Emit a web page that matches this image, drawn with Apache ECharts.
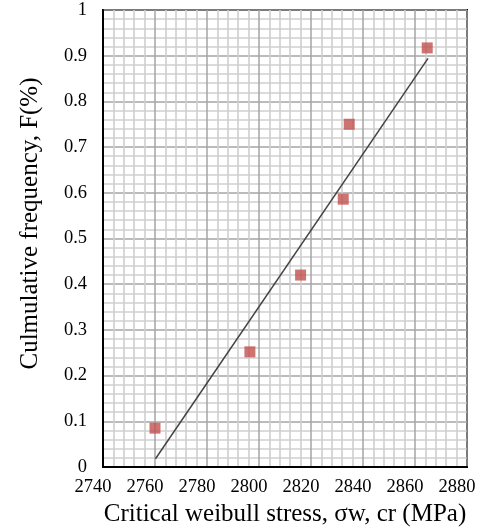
<!DOCTYPE html>
<html>
  <head>
    <meta charset="UTF-8" />
    <title>Weibull stress chart</title>
    <script src="https://cdn.jsdelivr.net/npm/echarts@6.0.0/dist/echarts.min.js"></script>
  </head>
  <body style="margin: 0; background: #fff">
    <div id="chart" style="width: 484px; height: 528px"></div>
  </body>
  <script>
    // measured points (stress in MPa, cumulative frequency)
    let stressValues = [2760, 2796.5, 2816, 2832.4, 2834.7, 2864.7];
    let freqValues = [0.085, 0.252, 0.42, 0.586, 0.75, 0.917];
    // fitted line end points
    let fitStress = [2760.2, 2865];
    let fitFreq = [0.018, 0.894];

    let myChart = echarts.init(document.getElementById('chart'));
    let font = 'Liberation Serif';

    myChart.setOption({
      animation: false,
      grid: {
        left: 103, right: 17, top: 10, bottom: 61,
        outerBoundsMode: 'none', containLabel: false,
        show: true, borderColor: '#000', borderWidth: 2
      },
      xAxis: {
        type: 'value',
        min: 2740, max: 2880, interval: 20,
        name: 'Critical weibull stress, σw, cr (MPa)',
        nameLocation: 'middle',
        nameGap: 31,
        nameTextStyle: { fontFamily: font, fontSize: 25, color: '#000' },
        axisLine: { show: true, lineStyle: { color: '#000', width: 2 } },
        axisTick: { show: false },
        axisLabel: {
          fontFamily: font, fontSize: 18.5, color: '#000', margin: 11, padding: [0, 20, 0, 0],
          formatter: v => String(v)
        },
        splitLine: { show: true, lineStyle: { color: '#a4a4a4', width: 1.5 } },
        minorTick: { show: false, splitNumber: 5 },
        minorSplitLine: { show: true, lineStyle: { color: '#cfcfcf', width: 1.6 } }
      },
      yAxis: {
        type: 'value',
        min: 0, max: 1, interval: 0.1,
        name: 'Culmulative frequency, F(%)',
        nameLocation: 'middle',
        nameGap: 60,
        nameTextStyle: { fontFamily: font, fontSize: 25, color: '#000', padding: [0, 0, 0, 30] },
        axisLine: { show: true, lineStyle: { color: '#000', width: 2 } },
        axisTick: { show: false },
        axisLabel: { fontFamily: font, fontSize: 18.5, color: '#000', margin: 16 },
        splitLine: { show: true, lineStyle: { color: '#a4a4a4', width: 1.5 } },
        minorTick: { show: false, splitNumber: 5 },
        minorSplitLine: { show: true, lineStyle: { color: '#cfcfcf', width: 1.6 } }
      },
      series: [
        {
          type: 'line',
          data: fitStress.map((s, i) => [s, fitFreq[i]]),
          showSymbol: false,
          lineStyle: { color: '#444', width: 1.5 },
          z: 2
        },
        {
          type: 'scatter',
          data: stressValues.map((s, i) => [s, freqValues[i]]),
          symbol: 'rect',
          symbolSize: 11,
          itemStyle: { color: '#c0504d' },
          z: 3
        }
      ]
    });
  </script>
</html>
